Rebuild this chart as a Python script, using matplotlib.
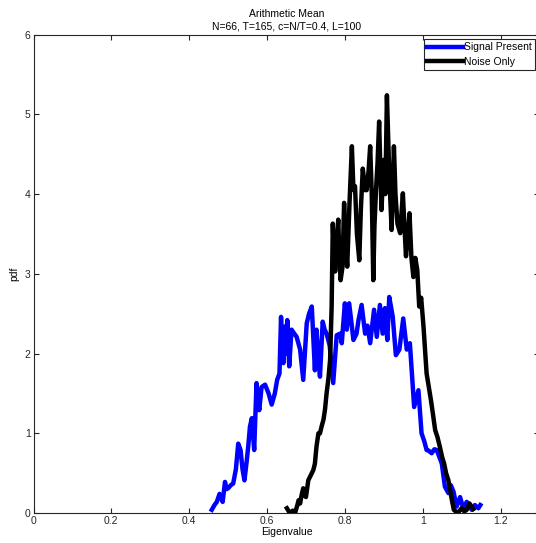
import matplotlib
matplotlib.use('Agg')
import matplotlib.pyplot as plt

# Signal present curve
sig_x = [0.458, 0.465, 0.471, 0.478, 0.486, 0.492, 0.496, 0.500, 0.507, 0.513, 0.520,
         0.526, 0.532, 0.537, 0.542, 0.548, 0.552, 0.556, 0.561, 0.567, 0.573, 0.576,
         0.580, 0.586, 0.595, 0.604, 0.612, 0.620, 0.626, 0.632, 0.636, 0.639, 0.642,
         0.646, 0.649, 0.652, 0.657, 0.663, 0.670, 0.676, 0.685, 0.693, 0.702, 0.708,
         0.715, 0.723, 0.727, 0.731, 0.736, 0.743, 0.748, 0.753, 0.761, 0.770, 0.779,
         0.788, 0.792, 0.800, 0.805, 0.811, 0.818, 0.822, 0.830, 0.835, 0.843, 0.852,
         0.858, 0.865, 0.875, 0.882, 0.890, 0.897, 0.903, 0.909, 0.914, 0.923, 0.931,
         0.940, 0.950, 0.959, 0.967, 0.978, 0.989, 0.997, 1.004, 1.010, 1.016, 1.023,
         1.030, 1.036, 1.043, 1.049, 1.057, 1.066, 1.072, 1.079, 1.087, 1.096, 1.104,
         1.113, 1.120, 1.126, 1.134, 1.143, 1.148]
sig_y = [0.04, 0.10, 0.14, 0.24, 0.14, 0.39, 0.30, 0.31, 0.35, 0.37, 0.55,
         0.87, 0.79, 0.55, 0.41, 0.66, 0.85, 1.08, 1.19, 0.79, 1.63, 1.45,
         1.29, 1.58, 1.61, 1.50, 1.36, 1.50, 1.67, 1.75, 2.46, 2.05, 1.88,
         2.34, 2.00, 2.42, 1.84, 2.30, 2.25, 2.21, 2.05, 1.67, 2.38, 2.50,
         2.59, 1.79, 2.30, 2.00, 1.71, 2.40, 2.30, 2.25, 2.10, 1.63, 2.23,
         2.25, 2.13, 2.63, 2.30, 2.63, 2.34, 2.17, 2.25, 2.42, 2.61, 2.25,
         2.35, 2.13, 2.55, 2.21, 2.61, 2.25, 2.57, 2.17, 2.71, 2.46, 1.98,
         2.05, 2.44, 2.05, 2.13, 1.33, 1.54, 1.00, 0.90, 0.79, 0.78, 0.75,
         0.80, 0.79, 0.70, 0.62, 0.33, 0.25, 0.35, 0.27, 0.08, 0.20, 0.06,
         0.14, 0.08, 0.04, 0.10, 0.06, 0.10]

# Noise only curve
noise_x = [0.651, 0.656, 0.660, 0.666, 0.672, 0.678, 0.681, 0.685, 0.689, 0.693, 0.697,
           0.700, 0.706, 0.710, 0.715, 0.719, 0.723, 0.727, 0.732, 0.736, 0.741, 0.745,
           0.749, 0.753, 0.758, 0.762, 0.766, 0.769, 0.772, 0.775, 0.779, 0.783, 0.786,
           0.789, 0.794, 0.798, 0.802, 0.806, 0.812, 0.818, 0.822, 0.826, 0.831, 0.837,
           0.841, 0.846, 0.852, 0.856, 0.861, 0.865, 0.869, 0.873, 0.876, 0.880, 0.884,
           0.888, 0.894, 0.900, 0.904, 0.908, 0.914, 0.920, 0.926, 0.930, 0.935, 0.942,
           0.949, 0.953, 0.957, 0.962, 0.966, 0.971, 0.976, 0.981, 0.986, 0.991, 0.996,
           1.002, 1.010, 1.015, 1.021, 1.026, 1.032, 1.038, 1.044, 1.050, 1.055, 1.060,
           1.066, 1.075, 1.080, 1.090, 1.100, 1.107, 1.113, 1.120, 1.130]
noise_y = [0.06, 0.02, 0.00, 0.03, 0.00, 0.10, 0.16, 0.12, 0.23, 0.31, 0.22,
           0.20, 0.41, 0.45, 0.50, 0.54, 0.62, 0.83, 1.00, 1.00, 1.10, 1.17,
           1.30, 1.50, 1.70, 1.92, 2.59, 3.63, 3.20, 3.03, 3.40, 3.68, 3.20,
           2.92, 3.09, 3.89, 3.40, 3.09, 3.90, 4.60, 4.05, 4.10, 3.50, 3.17,
           3.80, 4.32, 4.05, 4.05, 4.30, 4.60, 4.01, 2.92, 3.60, 4.05, 4.40,
           4.91, 3.80, 4.43, 4.00, 5.24, 4.26, 3.55, 4.60, 4.00, 3.63, 3.51,
           4.01, 3.60, 3.22, 3.50, 3.76, 3.20, 2.96, 3.20, 3.05, 2.59, 2.70,
           2.34, 1.75, 1.60, 1.42, 1.25, 1.04, 0.95, 0.83, 0.70, 0.62, 0.50,
           0.41, 0.16, 0.04, 0.00, 0.06, 0.02, 0.04, 0.12, 0.05]

x_ticks = [0, 0.2, 0.4, 0.6, 0.8, 1, 1.2]
x_labels = ['0', '0.2', '0.4', '0.6', '0.8', '1', '1.2']
y_ticks = [0, 1, 2, 3, 4, 5, 6]

plt.rcParams['font.family'] = ['Liberation Sans', 'DejaVu Sans']
plt.rcParams['font.size'] = 7.5

fig = plt.figure(figsize=(5.36, 5.43), dpi=100)
ax = fig.add_axes([0.0625, 0.0552, 0.944, 0.881])

ax.plot(sig_x, sig_y, color='#0000ff', lw=3.2, label='Signal Present')
ax.plot(noise_x, noise_y, color='black', lw=3.2, label='Noise Only')

ax.set_xlim(0, 1.3)
ax.set_ylim(0, 6)
ax.set_xticks(x_ticks)
ax.set_xticklabels(x_labels)
ax.set_yticks(y_ticks)
ax.tick_params(direction='in', length=3.5, width=0.8, top=True, right=True,
               colors='#262626', labelsize=7.5, pad=2)
for s in ax.spines.values():
    s.set_color('#262626')
    s.set_linewidth(0.8)

ax.set_xlabel('Eigenvalue', labelpad=1)
ax.set_ylabel('pdf', labelpad=4)
ax.set_title('Arithmetic Mean\nN=66, T=165, c=N/T=0.4, L=100', fontsize=7.5,
             pad=4, linespacing=1.3)

leg = ax.legend(loc='upper right', fancybox=False, framealpha=1, edgecolor='#262626',
                handlelength=3.4, handletextpad=0.1, borderaxespad=0.4,
                borderpad=0.35, labelspacing=0.4, fontsize=7.5)
leg.get_frame().set_linewidth(0.8)

fig.savefig('out.png', dpi=100)
